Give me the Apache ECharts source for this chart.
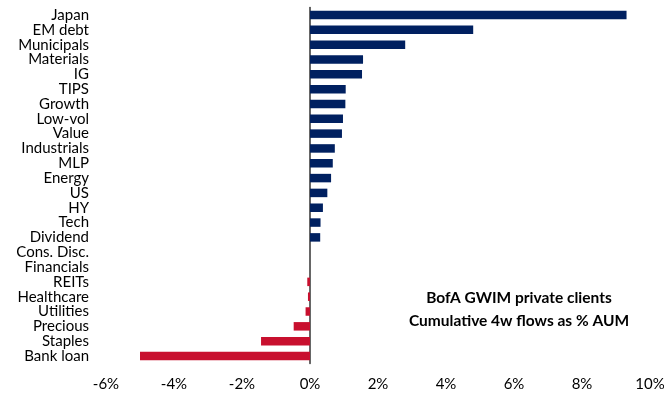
<!DOCTYPE html>
<html>
<head>
<meta charset="utf-8">
<script src="https://cdn.jsdelivr.net/npm/echarts@6/dist/echarts.min.js"></script>
<style>
  html, body { margin: 0; padding: 0; background: #fff; }
  #main { width: 664px; height: 398px; }
</style>
</head>
<body>
<div id="main"></div>
<script>
// cumulative 4w flows as % of AUM
const categories = ['Japan', 'EM debt', 'Municipals', 'Materials', 'IG', 'TIPS', 'Growth', 'Low-vol',
    'Value', 'Industrials', 'MLP', 'Energy', 'US', 'HY', 'Tech', 'Dividend', 'Cons. Disc.',
    'Financials', 'REITs', 'Healthcare', 'Utilities', 'Precious', 'Staples', 'Bank loan']
const flows = [9.31, 4.8, 2.8, 1.56, 1.53, 1.05, 1.04, 0.97,
    0.94, 0.73, 0.67, 0.62, 0.51, 0.38, 0.31, 0.3, 0,
    0, -0.08, -0.06, -0.13, -0.48, -1.44, -5.0]
const xTicks = [-6, -4, -2, 0, 2, 4, 6, 8, 10]

const font = 'Lato, "Liberation Sans", sans-serif'
const chart = echarts.init(document.getElementById('main'))

chart.setOption({
    animation: false,
    grid: { left: 106, right: 14, top: 7.6, bottom: 34.6, outerBoundsMode: 'none', containLabel: false },
    xAxis: {
        type: 'value',
        min: xTicks[0],
        max: xTicks[xTicks.length - 1],
        interval: 2,
        axisLine: { show: false },
        axisTick: { show: false },
        splitLine: { show: false },
        axisLabel: {
            margin: 13,
            color: '#000',
            fontSize: 15,
            fontFamily: font,
            formatter: v => v + '%'
        }
    },
    yAxis: {
        type: 'category',
        inverse: true,
        data: categories,
        axisLine: { onZero: true, lineStyle: { color: '#333', width: 1.5 } },
        axisTick: { show: false },
        axisLabel: {
            interval: 0,
            margin: 17,
            color: '#000',
            fontSize: 15,
            fontFamily: font,
            lineHeight: 15
        }
    },
    graphic: [{
        type: 'text',
        x: 519,
        y: 286,
        style: {
            text: 'BofA GWIM private clients\nCumulative 4w flows as % AUM',
            textAlign: 'center',
            fill: '#000',
            font: 'bold 15.5px ' + font,
            lineHeight: 23
        }
    }],
    series: [{
        type: 'bar',
        data: flows,
        barWidth: 8.5,
        itemStyle: {
            color: p => p.value >= 0 ? '#002060' : '#C8102E'
        }
    }]
})
</script>
</body>
</html>
